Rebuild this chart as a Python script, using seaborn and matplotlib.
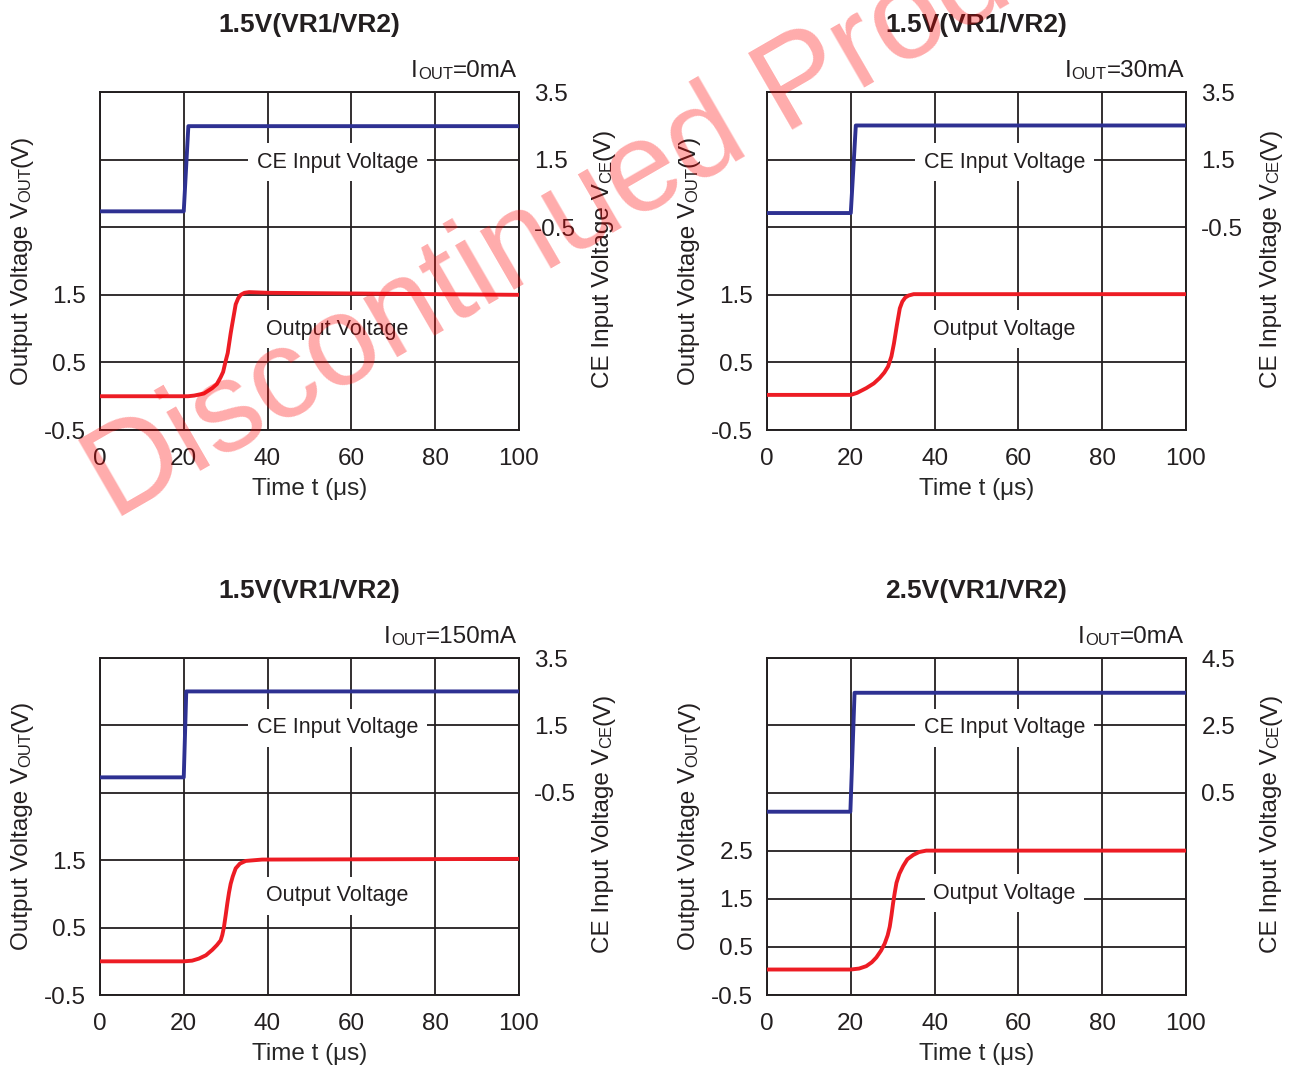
import matplotlib
matplotlib.use("Agg")
import matplotlib.pyplot as plt
import seaborn as sns

# ---- data (time in us, voltages in V) ----
titles = ["1.5V(VR1/VR2)", "1.5V(VR1/VR2)", "1.5V(VR1/VR2)", "2.5V(VR1/VR2)"]
iout = ["0mA", "30mA", "150mA", "0mA"]

t_ce_1 = [0, 20, 21.1, 100]
v_ce_1 = [-0.03, -0.03, 2.49, 2.49]
t_out_1 = [0, 21, 22.5, 24.8, 26.8, 27.9, 28.8, 29.4, 30.0, 30.5, 31.2, 31.5, 32.4,
           33.0, 33.6, 34.5, 35.6, 40, 100]
v_out_1 = [0.0, 0.0, 0.01, 0.04, 0.12, 0.18, 0.28, 0.36, 0.52, 0.64, 0.93, 1.04, 1.36,
           1.45, 1.50, 1.53, 1.54, 1.53, 1.50]

t_ce_2 = [0, 20, 21.2, 100]
v_ce_2 = [-0.08, -0.08, 2.51, 2.51]
t_out_2 = [0, 20, 21.5, 23.7, 25.5, 26.9, 28.0, 28.9, 29.7, 30.3, 31.0, 31.7, 32.3,
           33.0, 33.8, 35.0, 36.4, 100]
v_out_2 = [0.02, 0.02, 0.05, 0.12, 0.19, 0.27, 0.35, 0.44, 0.59, 0.78, 1.05, 1.30, 1.40,
           1.46, 1.49, 1.51, 1.51, 1.51]

t_ce_3 = [0, 20, 20.6, 100]
v_ce_3 = [-0.04, -0.04, 2.51, 2.51]
t_out_3 = [0, 20, 22, 23.6, 25.3, 26.8, 27.9, 28.8, 29.2, 29.6, 30.0, 30.4, 30.8, 31.2,
           31.7, 32.4, 33.4, 34.8, 38.7, 100]
v_out_3 = [0.0, 0.0, 0.01, 0.04, 0.09, 0.17, 0.24, 0.31, 0.39, 0.51, 0.68, 0.86, 1.02, 1.15,
           1.26, 1.38, 1.45, 1.49, 1.51, 1.52]

t_ce_4 = [0, 19.9, 20.9, 100]
v_ce_4 = [-0.06, -0.06, 3.47, 3.47]
t_out_4 = [0, 20, 22, 23.7, 25, 26.1, 27.2, 28.1, 28.8, 29.3, 29.7, 30.1, 30.5, 30.9,
           31.6, 32.5, 33.5, 34.9, 36.3, 38.0, 100]
v_out_4 = [0.03, 0.03, 0.05, 0.10, 0.18, 0.28, 0.42, 0.57, 0.74, 0.92, 1.15, 1.41, 1.63, 1.83,
           2.02, 2.18, 2.32, 2.41, 2.47, 2.50, 2.50]

t_ce = [t_ce_1, t_ce_2, t_ce_3, t_ce_4]
v_ce = [v_ce_1, v_ce_2, v_ce_3, v_ce_4]
t_out = [t_out_1, t_out_2, t_out_3, t_out_4]
v_out = [v_out_1, v_out_2, v_out_3, v_out_4]

x_ticks = [0, 20, 40, 60, 80, 100]
left_lim = [(-0.5, 4.5), (-0.5, 4.5), (-0.5, 4.5), (-0.5, 6.5)]
right_lim = [(-6.5, 3.5), (-6.5, 3.5), (-6.5, 3.5), (-5.5, 4.5)]
left_ticks = [[-0.5, 0.5, 1.5]] * 3 + [[-0.5, 0.5, 1.5, 2.5]]
right_ticks = [[-0.5, 1.5, 3.5]] * 3 + [[0.5, 2.5, 4.5]]
ce_label_y = [1.5, 1.5, 1.5, 2.5]
out_label_y = [1.03, 1.03, 1.01, 1.67]
label_x = 56.7

BLUE = "#2e3192"
RED = "#ed1c24"
INK = "#231f20"

sns.set_style("white")
plt.rcParams["font.family"] = ["Liberation Sans", "DejaVu Sans"]
plt.rcParams["axes.edgecolor"] = INK
plt.rcParams["axes.linewidth"] = 1.4
plt.rcParams["text.color"] = INK

fig = plt.figure(figsize=(12.98, 10.65), dpi=100)
positions = [
    [0.0770, 0.5962, 0.3228, 0.3174],
    [0.5909, 0.5962, 0.3228, 0.3174],
    [0.0770, 0.0657, 0.3228, 0.3164],
    [0.5909, 0.0657, 0.3228, 0.3164],
]


def chain_text(ax, x, y, parts, rotation=0):
    # labels with small-caps pieces, e.g. V + OUT + (V)
    if rotation:
        s, fs = parts[0]
        t = ax.annotate(s, xy=(x, y), xycoords="axes fraction", rotation=90,
                        ha="right", va="bottom", fontsize=fs)
        for s, fs in parts[1:]:
            t = ax.annotate(s, xy=(1, 1), xycoords=t, rotation=90,
                            ha="right", va="bottom", fontsize=fs)
    else:
        # right aligned: build from the last piece backwards
        s, fs = parts[-1]
        t = ax.annotate(s, xy=(x, y), xycoords="axes fraction",
                        ha="right", va="baseline", fontsize=fs)
        for s, fs in parts[-2::-1]:
            t = ax.annotate(s, xy=(0, 0), xycoords=t,
                            ha="right", va="bottom", fontsize=fs)


for i in range(4):
    ax = fig.add_axes(positions[i])
    ax2 = ax.twinx()

    sns.lineplot(x=t_out[i], y=v_out[i], ax=ax, color=RED, lw=2.8, zorder=3)
    sns.lineplot(x=t_ce[i], y=v_ce[i], ax=ax2, color=BLUE, lw=2.8, zorder=3)

    ax.set_xlim(0, 100)
    ax.set_ylim(*left_lim[i])
    ax2.set_ylim(*right_lim[i])
    ax.set_xticks(x_ticks)
    ax.set_yticks(left_ticks[i])
    ax.set_yticklabels([str(v) for v in left_ticks[i]])
    ax2.set_yticks(right_ticks[i])
    ax2.set_yticklabels([str(v) for v in right_ticks[i]])

    ax.grid(True, color=INK, lw=1.3)
    ax2.grid(True, axis="y", color=INK, lw=1.3)
    ax2.grid(False, axis="x")
    ax.set_axisbelow(True)
    ax2.set_axisbelow(True)

    ax.tick_params(axis="x", length=0, pad=13, labelsize=17.5, colors=INK)
    ax.tick_params(axis="y", length=0, pad=10, labelsize=17.5, colors=INK)
    ax2.tick_params(axis="y", length=0, pad=11, labelsize=17.5, colors=INK)
    for sp in ax2.spines.values():
        sp.set_visible(False)

    ax.set_xlabel("Time t (\u03bcs)", fontsize=17.5, labelpad=6)

    ax.text(0.5, 1.178, titles[i], transform=ax.transAxes, ha="center",
            va="baseline", fontsize=19, fontweight="bold")
    chain_text(ax, 0.995, 1.044, [("I", 17.5), ("OUT", 12), ("=" + iout[i], 17.5)])
    chain_text(ax, -0.160, 0.133,
               [("Output Voltage V", 17.5), ("OUT", 12), ("(V)", 17.5)], rotation=90)
    chain_text(ax, 1.228, 0.124,
               [("CE Input Voltage V", 17.5), ("CE", 12), ("(V)", 17.5)], rotation=90)

    box = dict(facecolor="white", edgecolor="none", pad=6)
    ax2.text(label_x, ce_label_y[i], "CE Input Voltage", ha="center",
             va="center_baseline", fontsize=15.5, bbox=box, zorder=4)
    ax.text(label_x, out_label_y[i], "Output Voltage", ha="center",
            va="center_baseline", fontsize=15.5, bbox=box, zorder=4)

# watermark
fig.text(0.0878, 0.5108, "Discontinued Product", rotation=30, rotation_mode="anchor",
         ha="left", va="baseline", fontsize=92, color="red", alpha=0.33, zorder=10)

fig.savefig("out.png", dpi=100)
